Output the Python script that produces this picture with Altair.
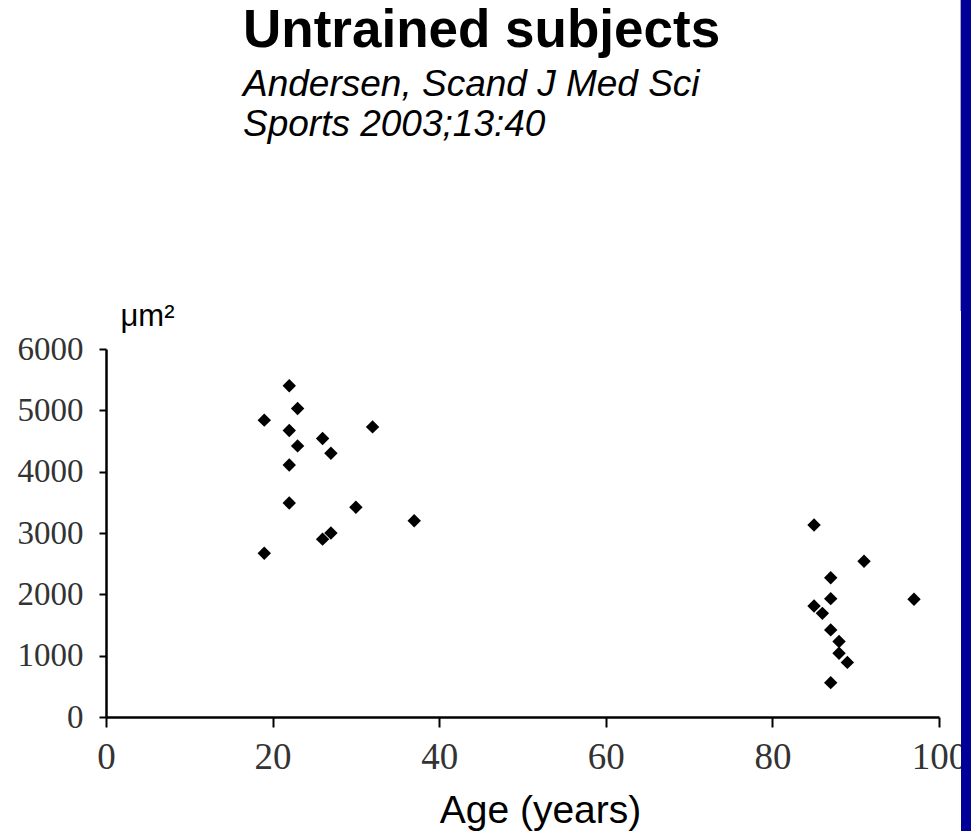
import altair as alt
import pandas as pd

# --- data ---
young_age = [19, 22, 23, 22, 23, 26, 27, 32, 22, 22, 30, 37, 26, 27, 19]
young_area = [4840, 5400, 5030, 4670, 4420, 4540, 4300, 4730, 4110, 3490, 3420, 3200, 2900, 3000, 2670]
old_age = [85, 91, 87, 87, 97, 85, 86, 87, 88, 88, 89, 87]
old_area = [3130, 2540, 2270, 1930, 1920, 1810, 1690, 1420, 1230, 1040, 890, 560]

x_ticks = [0, 20, 40, 60, 80, 100]
y_ticks = [0, 1000, 2000, 3000, 4000, 5000, 6000]

df = pd.DataFrame({
    "age": young_age + old_age,
    "area": young_area + old_area,
})

W, H = 833, 368
PAD = {"left": 106, "top": 349, "right": 32, "bottom": 114}

points = alt.Chart(df).mark_point(
    shape="diamond", filled=True, color="black", size=180, opacity=1
).encode(
    x=alt.X("age:Q",
            scale=alt.Scale(domain=[0, 100], nice=False),
            axis=alt.Axis(values=x_ticks, title="Age (years)", grid=False,
                          format="d", labelFlush=False, labelOverlap=False,
                          labelFont="Liberation Serif", labelFontSize=37,
                          labelColor="#333333", labelPadding=12,
                          tickSize=10, tickWidth=2, tickColor="black",
                          domainColor="black", domainWidth=2.5,
                          titleFont="Liberation Sans", titleFontSize=39,
                          titleFontWeight="normal", titleColor="black",
                          titleX=434, titleY=105, titleAlign="center",
                          titleBaseline="alphabetic")),
    y=alt.Y("area:Q",
            scale=alt.Scale(domain=[0, 6000], nice=False),
            axis=alt.Axis(values=y_ticks, title="μm²", grid=False,
                          format="d", labelFlush=False, labelOverlap=False,
                          labelFont="Liberation Serif", labelFontSize=33,
                          labelColor="#333333", labelPadding=16,
                          tickSize=7, tickWidth=2, tickColor="black",
                          domainColor="black", domainWidth=2.5,
                          titleFont="Liberation Sans", titleFontSize=31,
                          titleFontWeight="normal", titleColor="black",
                          titleAngle=0, titleX=14, titleY=-24,
                          titleAlign="left", titleBaseline="alphabetic")),
)

decor = alt.Data(values=[{"k": 1}])

band = alt.Chart(decor).mark_rect(color="#000099").encode(
    x=alt.value(855), x2=alt.value(870),
    y=alt.value(-349), y2=alt.value(482),
)

edge = alt.Chart(decor).mark_rule(color="#a8a8cc", strokeWidth=1).encode(
    x=alt.value(854.5), y=alt.value(-349), y2=alt.value(-38),
)

chart = alt.layer(points, band, edge).properties(
    width=W, height=H,
    padding=PAD,
    autosize=alt.AutoSizeParams(type="none"),
    background="white",
    title=alt.TitleParams(
        text="Untrained subjects",
        subtitle=["Andersen, Scand J Med Sci", "Sports 2003;13:40"],
        anchor="start", frame="group", orient="top",
        dx=137, dy=143, offset=0,
        font="Liberation Sans", fontSize=53, fontWeight="bold", color="black",
        subtitleFont="Liberation Sans", subtitleFontSize=37,
        subtitleFontStyle="italic", subtitleColor="black",
        subtitleLineHeight=40, subtitlePadding=9,
    ),
).configure_view(stroke=None)

chart.save("out.html", embed_options={"renderer": "svg", "actions": False})
